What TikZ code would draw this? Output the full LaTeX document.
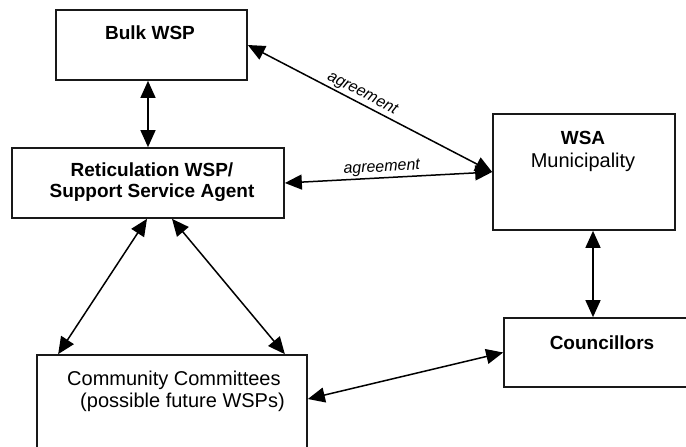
\documentclass[tikz,border=0pt]{standalone}
\usepackage{fontspec}
\setmainfont{Liberation Sans}
\usetikzlibrary{arrows.meta,calc}
\begin{document}
\begin{tikzpicture}[x=1pt,y=-1pt,
  box/.style={draw=black!90,line width=1.7pt,rectangle,inner sep=0pt},
  lbl/.style={font=\fontsize{20}{22.5}\selectfont,inner sep=0pt},
  blbl/.style={font=\fontsize{19}{21}\selectfont\bfseries,inner sep=0pt},
  arr/.style={line width=1.5pt,{Triangle[length=17pt,width=15pt]}-{Triangle[length=17pt,width=15pt]}},
  agr/.style={font=\fontsize{16}{18}\selectfont\itshape,inner sep=2pt}]
\path[use as bounding box] (0,0) rectangle (686,447);
\clip (0,0) rectangle (686,447);
% boxes
\node[box,minimum width=191pt,minimum height=70pt] (bulk) at (151.5,45) {};
\node[box,minimum width=272pt,minimum height=70pt] (ret) at (148,183) {};
\node[box,minimum width=182pt,minimum height=116pt] (wsa) at (584,172) {};
\node[box,minimum width=186pt,minimum height=69pt] (coun) at (597,352.5) {};
\node[box,minimum width=270pt,minimum height=105pt] (comm) at (172,407.5) {};
% texts
\node[blbl] (bulkt) at (150,33) {Bulk WSP};
\node[blbl,align=center] (rett) at (152,182.5) {Reticulation WSP/\\Support Service Agent};
\node[blbl] (wsat) at (583,138) {WSA};
\node[lbl] (munt) at (583,162) {Municipality};
\node[blbl] (count) at (602,343) {Councillors};
\node[lbl,align=left] (commt) at (176,391.5) {Community Committees\\\hspace{13pt}(possible future WSPs)};
% connectors
\draw[arr] (bulk.south -| ret.north) -- (ret.north);
\draw[arr] (bulk.east) -- node[agr,pos=0.45,sloped,above] {agreement} (wsa.west);
\draw[arr] (ret.east) -- node[agr,pos=0.47,sloped,above] {agreement} (wsa.west);
\draw[arr] ([xshift=9pt]wsa.south) -- ([xshift=-4pt]coun.north);
\draw[arr] ([xshift=-1pt]ret.south) -- ([xshift=22pt]comm.north west);
\draw[arr] ([xshift=24pt]ret.south) -- ([xshift=-23pt]comm.north east);
\draw[arr] ([yshift=8.5pt]comm.east) -- (coun.west);
\end{tikzpicture}
\end{document}
